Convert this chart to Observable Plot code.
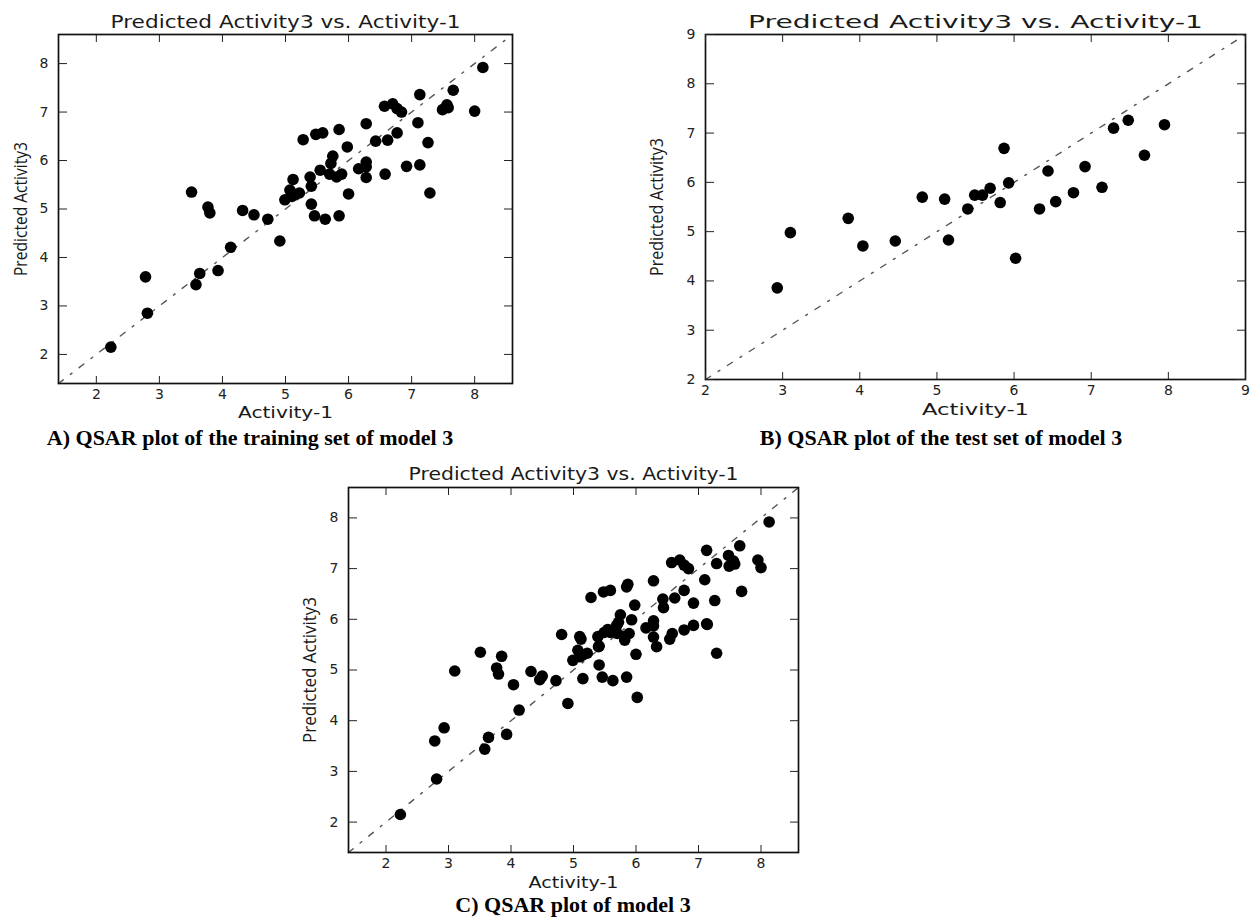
<!DOCTYPE html>
<html>
<head>
<meta charset="utf-8">
<script src="https://cdn.jsdelivr.net/npm/d3@7"></script>
<script src="https://cdn.jsdelivr.net/npm/@observablehq/plot@0.6"></script>
<style>
  html, body { margin: 0; padding: 0; background: #fff; }
  #page { position: relative; width: 1254px; height: 919px; overflow: hidden; background: #fff; }
  .panel { position: absolute; }
  .cap { position: absolute; font-family: "Liberation Serif", "Times New Roman", serif; font-weight: bold;
         font-size: 22px; line-height: 24px; white-space: nowrap; transform: translateX(-50%); color: #000; background: #fff; }
</style>
</head>
<body>
<div id="page"></div>
<script>
// ---------- data ----------
const trainActual = [2.23, 2.78, 2.81, 3.51, 3.58, 3.64, 3.77, 3.80, 3.93, 4.13,
  4.32, 4.50, 4.72, 4.91, 4.99, 5.07, 5.12, 5.10, 5.22, 5.28,
  5.15, 5.39, 5.41, 5.41, 5.46, 5.48, 5.59, 5.55, 5.63, 5.72,
  5.75, 5.70, 5.81, 5.85, 5.85, 5.89, 5.98, 6.00, 6.16, 6.28,
  6.28, 6.28, 6.28, 6.43, 6.57, 6.58, 6.62, 6.70, 6.77, 6.84,
  6.77, 6.92, 7.10, 7.13, 7.13, 7.26, 7.29, 7.49, 7.56, 7.58,
  7.66, 8.00, 8.13];
const trainPredicted = [2.15, 3.60, 2.85, 5.35, 3.44, 3.67, 5.04, 4.92, 3.73, 4.21,
  4.97, 4.88, 4.79, 4.34, 5.19, 5.39, 5.61, 5.26, 5.33, 6.43,
  5.30, 5.66, 5.47, 5.10, 4.86, 6.54, 6.57, 5.80, 4.79, 5.94,
  6.09, 5.72, 5.66, 6.64, 4.86, 5.72, 6.28, 5.31, 5.83, 6.76,
  5.97, 5.87, 5.65, 6.40, 7.12, 5.72, 6.42, 7.17, 7.07, 7.00,
  6.57, 5.88, 6.78, 7.36, 5.91, 6.37, 5.33, 7.05, 7.15, 7.09,
  7.45, 7.02, 7.92];
const testActual = [2.93, 3.10, 3.85, 4.04, 4.46, 4.81, 5.10, 5.15, 5.40, 5.49,
  5.59, 5.69, 5.82, 5.87, 5.93, 6.02, 6.33, 6.44, 6.54, 6.77,
  6.92, 7.14, 7.29, 7.48, 7.69, 7.95];
const testPredicted = [3.86, 4.98, 5.27, 4.71, 4.81, 5.70, 5.66, 4.83, 5.46, 5.74,
  5.74, 5.88, 5.59, 6.69, 5.99, 4.46, 5.46, 6.23, 5.61, 5.79,
  6.32, 5.90, 7.10, 7.26, 6.55, 7.17];
const allActual = trainActual.concat(testActual);
const allPredicted = trainPredicted.concat(testPredicted);

const ticksAC = [2, 3, 4, 5, 6, 7, 8];
const ticksB = [2, 3, 4, 5, 6, 7, 8, 9];
const domainAC = [1.4, 8.6];
const domainB = [2, 9];

const titleText = "Predicted Activity3 vs. Activity-1";
const xLabelText = "Activity-1";
const yLabelText = "Predicted Activity3";
const captionA = "A) QSAR plot of the training set of model 3";
const captionB = "B) QSAR plot of the test set of model 3";
const captionC = "C) QSAR plot of model 3";

// ---------- drawing ----------
const page = document.getElementById("page");
const intFmt = d3.format("d");

function drawPanel(cfg) {
  const pts = cfg.xs.map((x, i) => ({x, y: cfg.ys[i]}));
  const diag = cfg.domain.map(v => ({x: v, y: v}));
  const svg = Plot.plot({
    width: cfg.width, height: cfg.height,
    marginLeft: cfg.m[0], marginRight: cfg.m[1], marginTop: cfg.m[2], marginBottom: cfg.m[3],
    x: {domain: cfg.domain},
    y: {domain: cfg.domain},
    style: {fontFamily: "'DejaVu Sans', sans-serif", fontSize: "14px", color: "#222",
            background: "transparent", overflow: "visible"},
    marks: [
      Plot.line(diag, {x: "x", y: "y", stroke: "#555", strokeWidth: 1.4, strokeDasharray: "6,9,2,9"}),
      Plot.dot(pts, {x: "x", y: "y", r: 5.8, fill: "#000", stroke: "none"}),
      Plot.frame({stroke: "#111", strokeWidth: 1.7}),
      Plot.axisX(cfg.ticks, {anchor: "bottom", tickSize: -7, tickPadding: 13, label: null, tickFormat: intFmt}),
      Plot.axisX(cfg.ticks, {anchor: "top", tickSize: -7, tickFormat: () => "", label: null}),
      Plot.axisY(cfg.ticks, {anchor: "left", tickSize: -9, tickPadding: 19, label: null, tickFormat: intFmt}),
      Plot.axisY(cfg.ticks, {anchor: "right", tickSize: -9, tickFormat: () => "", label: null}),
      Plot.text([titleText], {text: d => d, frameAnchor: "top", dy: cfg.tDy, lineAnchor: "bottom",
                              textAnchor: "middle", fontSize: 17, fill: "#1a1a1a"}),
      Plot.text([xLabelText], {text: d => d, frameAnchor: "bottom", dy: cfg.xlDy, lineAnchor: "top",
                               textAnchor: "middle", fontSize: 15, fill: "#1a1a1a"}),
      Plot.text([yLabelText], {text: d => d, frameAnchor: "left", dx: cfg.ylDx, rotate: -90,
                               textAnchor: "middle", lineAnchor: "middle",
                               fontSize: 18, fill: "#1a1a1a", fontFamily: "'Open Sans', sans-serif"})
    ]
  });
  const wrap = document.createElement("div");
  wrap.className = "panel";
  wrap.style.left = cfg.left + "px";
  wrap.style.top = cfg.top + "px";
  wrap.appendChild(svg);
  page.appendChild(wrap);
  const sel = d3.select(svg).selectAll("text");
  sel.filter(function() { return this.textContent === titleText; })
     .attr("textLength", cfg.titleLen).attr("lengthAdjust", "spacingAndGlyphs");
  sel.filter(function() { return this.textContent === xLabelText; })
     .attr("textLength", cfg.xlLen).attr("lengthAdjust", "spacingAndGlyphs");
  sel.filter(function() { return this.textContent === yLabelText; })
     .attr("textLength", cfg.ylLen).attr("lengthAdjust", "spacingAndGlyphs");
}

drawPanel({xs: trainActual, ys: trainPredicted, domain: domainAC, ticks: ticksAC,
  left: 0, top: 0, width: 530, height: 430, m: [58, 18, 34, 47],
  titleLen: 350, xlLen: 95, ylLen: 134, xlDy: 24, ylDx: -37, tDy: -7});

drawPanel({xs: testActual, ys: testPredicted, domain: domainB, ticks: ticksB,
  left: 600, top: 0, width: 654, height: 430, m: [105, 9, 34, 51],
  titleLen: 455, xlLen: 107, ylLen: 138, xlDy: 25, ylDx: -48, tDy: -7});

drawPanel({xs: allActual, ys: allPredicted, domain: domainAC, ticks: ticksAC,
  left: 290, top: 455, width: 520, height: 464, m: [58, 12, 32, 67],
  titleLen: 330, xlLen: 90, ylLen: 146, xlDy: 25, ylDx: -38, tDy: -8});

function caption(text, cx, top) {
  const d = document.createElement("div");
  d.className = "cap";
  d.textContent = text;
  d.style.left = cx + "px";
  d.style.top = top + "px";
  page.appendChild(d);
}
caption(captionA, 250, 426);
caption(captionB, 941, 426);
caption(captionC, 573, 893);
</script>
</body>
</html>
